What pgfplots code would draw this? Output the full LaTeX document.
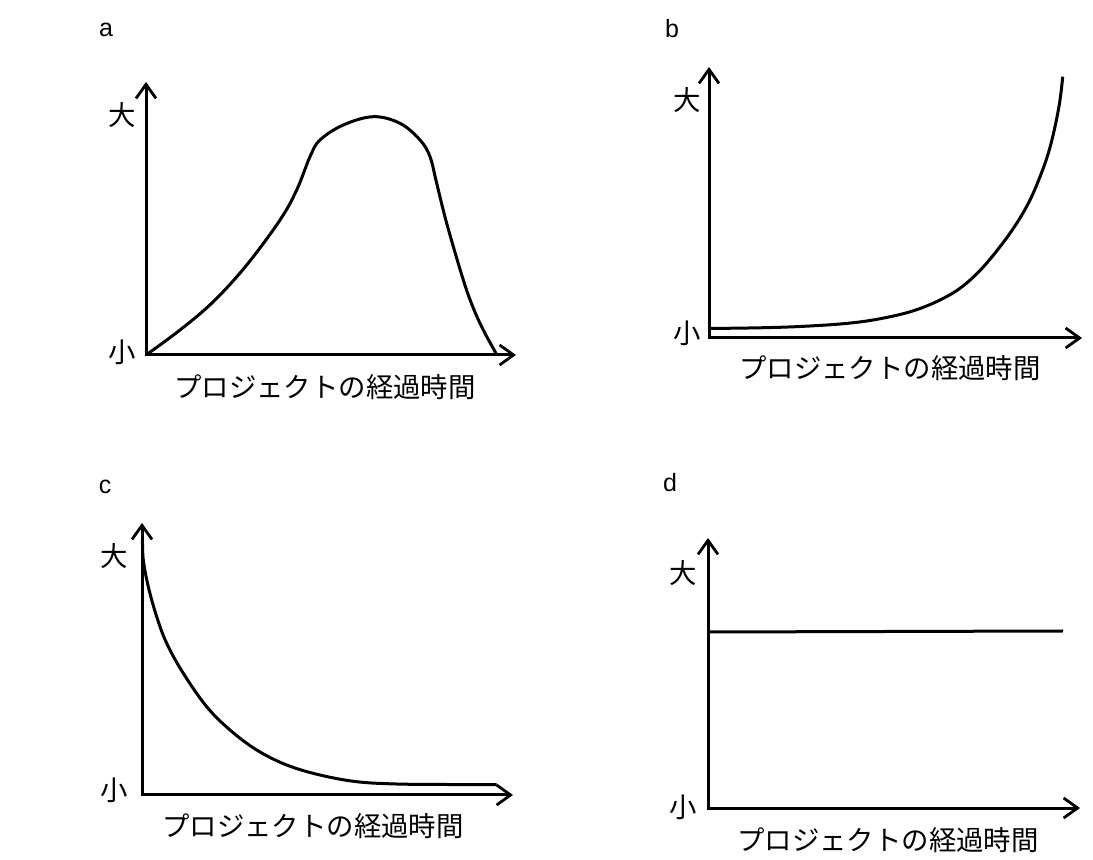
\documentclass[border=0pt]{standalone}
\usepackage{fontspec}
\setmainfont{Liberation Sans}
\newfontfamily\jp{Noto Sans CJK JP}
\usepackage{pgfplots}
\pgfplotsset{compat=1.18}
\usetikzlibrary{arrows.meta}

\pgfplotsset{
 panel/.style={
  scale only axis, axis lines=left, ticks=none,
  every axis/.append style={line width=1.5pt},
  axis line style={line width=1.5pt, line cap=rect, -{Straight Barb[length=7pt,width=10pt,line width=1.4pt]}},
  x axis line style={line width=1.5pt},
  y axis line style={line width=1.5pt},
  clip=false, anchor=south west,
 },
 curve/.style={black, line width=1.5pt, smooth, tension=0.6, no marks}
}

\begin{document}
\begin{tikzpicture}[x=0.5pt,y=-0.5pt]
\useasboundingbox (0,0) rectangle (1093,860);

% panel a
\begin{axis}[panel, at={(73pt,-177.5pt)}, width=185pt, height=136.5pt,
  xmin=146, xmax=516, ymin=-355, ymax=-82]
\addplot[curve] coordinates {
(146,-355) (180,-330) (213.3,-301.7) (246.7,-265) (280,-220) (296.7,-190)
(310,-156.7) (320,-140) (343.3,-125) (373.3,-116.7) (400,-123.3) (420,-140)
(430,-156.7) (436.7,-183.3) (446.7,-223.3) (463.3,-280) (473.3,-308)
(483.3,-330) (496,-353.3)};
\end{axis}

% panel b
\begin{axis}[panel, at={(354.5pt,-169pt)}, width=186.5pt, height=135.5pt,
  xmin=709, xmax=1082, ymin=-338, ymax=-67]
\addplot[curve] coordinates {
(709,-328.5) (760,-327.8) (800,-326.5) (840,-324) (870,-320.5) (900,-314.5)
(920,-308.5) (940,-300) (960,-288.3) (980,-270.5) (1000,-246.7) (1016.7,-223.3)
(1030,-200) (1040,-176.7) (1048.3,-153.3) (1055,-126.7) (1060,-100) (1062.7,-76.7)};
\end{axis}

% panel c
\begin{axis}[panel, at={(71pt,-397.5pt)}, width=185.5pt, height=136pt,
  xmin=142, xmax=513, ymin=-795, ymax=-523]
\addplot[curve] coordinates {
(142.5,-540) (143.3,-560) (148.3,-586.7) (156.7,-616.7) (166.7,-643.3)
(183.3,-673.3) (206.7,-706.7) (230,-730) (256.7,-750) (286.7,-765) (320,-775)
(356.7,-781.7) (396.7,-784) (446.7,-784.5) (496.7,-784.5)};
\end{axis}

% panel d
\begin{axis}[panel, at={(354pt,-404pt)}, width=186pt, height=135pt,
  xmin=708, xmax=1080, ymin=-808, ymax=-538]
\addplot[curve] coordinates {(708,-632) (1063,-631)};
\end{axis}

% labels
\begin{scope}[font=\fontsize{12.5pt}{14pt}\selectfont]
\node at (106,30) {a};
\node at (672,29) {b};
\node at (105,487) {c};
\node at (670,483) {d};
\end{scope}
\begin{scope}[font=\jp\fontsize{13.7pt}{15pt}\selectfont, inner sep=0pt]
\node at (122,115) {大};
\node at (122,352) {小};
\node at (325,387) {プロジェクトの経過時間};
\node at (687,100) {大};
\node at (687,333) {小};
\node at (890,368) {プロジェクトの経過時間};
\node at (114,556) {大};
\node at (114,790) {小};
\node at (313,826) {プロジェクトの経過時間};
\node at (683,573) {大};
\node at (683,807) {小};
\node at (888,840) {プロジェクトの経過時間};
\end{scope}
\end{tikzpicture}
\end{document}
